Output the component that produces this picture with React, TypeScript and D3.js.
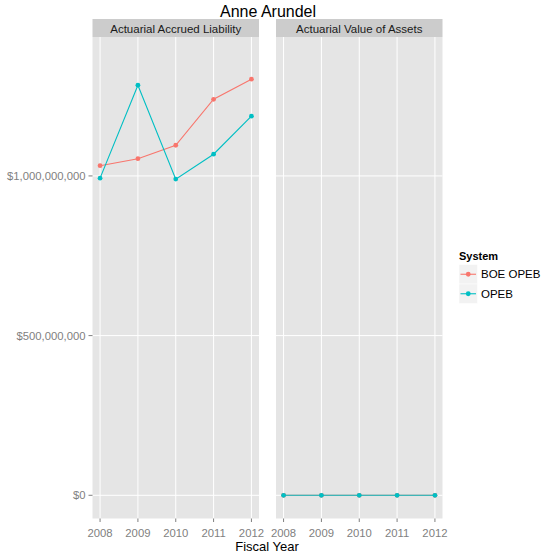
import React from "react";
import * as d3 from "d3";

const years = [2008, 2009, 2010, 2011, 2012];
const facets = ["Actuarial Accrued Liability", "Actuarial Value of Assets"];
const systems = ["BOE OPEB", "OPEB"];
const boeLiability = [1.032e9, 1.054e9, 1.096e9, 1.24e9, 1.303e9];
const opebLiability = [0.993e9, 1.284e9, 0.99e9, 1.068e9, 1.187e9];
const boeAssets = [0, 0, 0, 0, 0];
const opebAssets = [0, 0, 0, 0, 0];
const yTicks = [0, 5e8, 1e9];
const colors = ["#F8766D", "#00BFC4"];

const W = 542;
const H = 557;
const FONT = "'Liberation Sans', Arial, Helvetica, sans-serif";

const panelTop = 37;
const panelBottom = 518.5;
const stripTop = 19;
const panelW = 166.5;
const panelLefts = [92.5, 276];

export default function App() {
  const y = d3.scaleLinear().domain([-0.0727e9, 1.435e9]).range([panelBottom, panelTop]);
  const fmt = (v: number) => "$" + d3.format(",")(v);
  const seriesByFacet = [
    [boeLiability, opebLiability],
    [boeAssets, opebAssets],
  ];

  return (
    <svg width={W} height={H} style={{ position: "absolute", left: 0, top: 0, background: "#fff" }} fontFamily={FONT}>
      <text x={268} y={16.5} textAnchor="middle" fontSize={16} fill="#000">Anne Arundel</text>
      {facets.map((f, fi) => {
        const left = panelLefts[fi];
        const x = d3.scaleLinear().domain([2007.8, 2012.2]).range([left, left + panelW]);
        const line = d3.line<number>().x((_, i) => x(years[i])).y((d) => y(d));
        return (
          <g key={f}>
            <rect x={left} y={stripTop} width={panelW} height={panelTop - stripTop} fill="#CCCCCC" />
            <text x={left + panelW / 2} y={32.5} textAnchor="middle" fontSize={11.5} fill="#1a1a1a">{f}</text>
            <rect x={left} y={panelTop} width={panelW} height={panelBottom - panelTop} fill="#E5E5E5" />
            {years.map((yr) => (
              <line key={yr} x1={x(yr)} x2={x(yr)} y1={panelTop} y2={panelBottom} stroke="#fff" strokeWidth={1} />
            ))}
            {yTicks.map((t) => (
              <line key={t} x1={left} x2={left + panelW} y1={y(t)} y2={y(t)} stroke="#fff" strokeWidth={1} />
            ))}
            {seriesByFacet[fi].map((vals, si) => (
              <g key={si}>
                <path d={line(vals) || ""} fill="none" stroke={colors[si]} strokeWidth={1.1} />
                {vals.map((v, i) => (
                  <circle key={i} cx={x(years[i])} cy={y(v)} r={2.4} fill={colors[si]} />
                ))}
              </g>
            ))}
            {years.map((yr) => (
              <g key={"t" + yr}>
                <line x1={x(yr)} x2={x(yr)} y1={panelBottom} y2={panelBottom + 3.5} stroke="#7f7f7f" strokeWidth={1} />
                <text x={x(yr)} y={537} textAnchor="middle" fontSize={11.3} fill="#7f7f7f">{yr}</text>
              </g>
            ))}
          </g>
        );
      })}
      {yTicks.map((t) => (
        <g key={"y" + t}>
          <line x1={88.5} x2={92.5} y1={y(t)} y2={y(t)} stroke="#7f7f7f" strokeWidth={1} />
          <text x={85.5} y={y(t) + 4} textAnchor="end" fontSize={11.3} fill="#7f7f7f">{fmt(t)}</text>
        </g>
      ))}
      <text x={267} y={550.5} textAnchor="middle" fontSize={13} fill="#000">Fiscal Year</text>
      <text x={459} y={260} fontSize={11} fontWeight="bold" fill="#000">System</text>
      {systems.map((s, i) => {
        const ky = 264.5 + i * 19.5;
        return (
          <g key={s}>
            <rect x={459} y={ky} width={18.5} height={19.5} fill="#F2F2F2" stroke="#fff" strokeWidth={0.5} />
            <line x1={460.5} x2={476} y1={ky + 9.75} y2={ky + 9.75} stroke={colors[i]} strokeWidth={1.1} />
            <circle cx={468.25} cy={ky + 9.75} r={2.4} fill={colors[i]} />
            <text x={481} y={ky + 13.8} fontSize={11.5} fill="#000">{s}</text>
          </g>
        );
      })}
    </svg>
  );
}
